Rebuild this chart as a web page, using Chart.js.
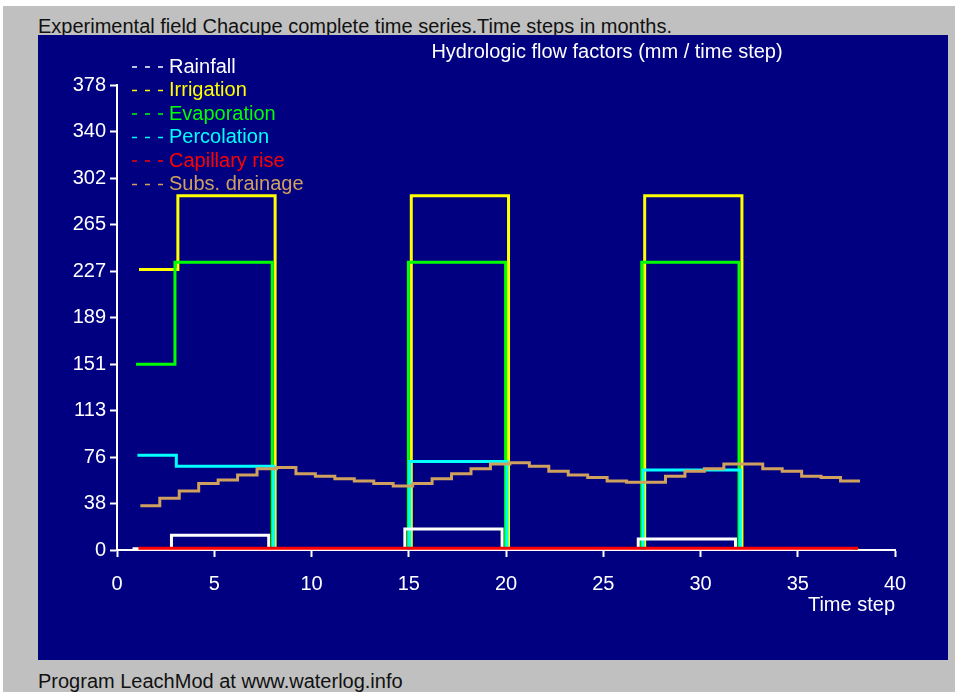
<!DOCTYPE html>
<html>
<head>
<meta charset="utf-8">
<title>LeachMod - hydrologic flow factors</title>
<script src="https://cdn.jsdelivr.net/npm/chart.js@4.4.1/dist/chart.umd.min.js"></script>
<style>
    html, body { margin: 0; padding: 0; background: #ffffff; }
    body { width: 955px; height: 692px; position: relative; overflow: hidden;
           font-family: "Liberation Sans", Arial, sans-serif; }
    #frame { position: absolute; left: 3px; top: 6px; width: 952px; height: 686px; background: #c0c0c0; }
    #caption { position: absolute; left: 35px; top: 9px; font-size: 20px; line-height: 23px; color: #111; white-space: nowrap; }
    #panel { position: absolute; left: 35px; top: 29px; width: 910px; height: 625px; background: #000080; }
    #footer { position: absolute; left: 35px; top: 664px; font-size: 20px; line-height: 23px; color: #111; white-space: nowrap; }
    canvas { display: block; }
</style>
</head>
<body>
<div id="frame">
    <div id="caption">Experimental field Chacupe complete time series.Time steps in months.</div>
    <div id="panel"><canvas id="flowChart" width="910" height="625"></canvas></div>
    <div id="footer">Program LeachMod at www.waterlog.info</div>
</div>
<script>
// monthly time steps, each value holds for one step
const timeSteps = [1, 2, 3, 4, 5, 6, 7, 8, 9, 10, 11, 12, 13, 14, 15, 16, 17, 18, 19, 20,
                   21, 22, 23, 24, 25, 26, 27, 28, 29, 30, 31, 32, 33, 34, 35, 36, 37];

const rainfall    = [1, 1, 12, 12, 12, 12, 12, 0, 0, 0, 0, 0, 0, 0, 17, 17, 17, 17, 17, 0,
                     0, 0, 0, 0, 0, 0, 9, 9, 9, 9, 9, 0, 0, 0, 0, 0, 0];
const irrigation  = [228, 228, 288, 288, 288, 288, 288, 0, 0, 0, 0, 0, 0, 0, 288, 288, 288, 288, 288, 0,
                     0, 0, 0, 0, 0, 0, 288, 288, 288, 288, 288, 0, 0, 0, 0, 0, 0];
const evaporation = [151, 151, 234, 234, 234, 234, 234, 0, 0, 0, 0, 0, 0, 0, 234, 234, 234, 234, 234, 0,
                     0, 0, 0, 0, 0, 0, 234, 234, 234, 234, 234, 0, 0, 0, 0, 0, 0];
const percolation = [77, 77, 68, 68, 68, 68, 68, 0, 0, 0, 0, 0, 0, 0, 72, 72, 72, 72, 72, 0,
                     0, 0, 0, 0, 0, 0, 65, 65, 65, 65, 65, 0, 0, 0, 0, 0, 0];
const capillary   = [1.5, 1.5, 1.5, 1.5, 1.5, 1.5, 1.5, 1.5, 1.5, 1.5, 1.5, 1.5, 1.5, 1.5, 1.5, 1.5, 1.5, 1.5, 1.5, 1.5,
                     1.5, 1.5, 1.5, 1.5, 1.5, 1.5, 1.5, 1.5, 1.5, 1.5, 1.5, 1.5, 1.5, 1.5, 1.5, 1.5, 1.5];
const drainage    = [36, 42, 48, 54, 57, 61, 66, 67, 62, 60, 58, 56, 54, 52, 54, 58, 62, 66, 70, 71,
                     68, 64, 61, 59, 56, 55, 55, 60, 64, 66, 70, 70, 66, 64, 60, 59, 56];

const seriesNames = ['Rainfall', 'Irrigation', 'Evaporation', 'Percolation', 'Capillary rise', 'Subs. drainage'];
const yTickLabels = [0, 38, 76, 113, 151, 189, 227, 265, 302, 340, 378];
const yMax = 378;

const FONT = '"Liberation Sans", Arial, sans-serif';
Chart.defaults.font.family = FONT;
Chart.defaults.font.size = 20;
Chart.defaults.color = '#ffffff';

// every step is drawn from its month to the next one; the series are nudged
// sideways a little so coinciding verticals stay visible
function stepPoints(values, shift) {
    const pts = values.map((v, i) => ({ x: timeSteps[i] + shift, y: v }));
    const last = timeSteps.length - 1;
    pts.push({ x: timeSteps[last] + 1 + shift, y: values[last] });
    return pts;
}

function makeSeries(label, values, color, shift, order) {
    return {
        label: label,
        data: stepPoints(values, shift),
        borderColor: color,
        backgroundColor: color,
        borderWidth: 3,
        stepped: true,
        pointRadius: 0,
        fill: false,
        order: order
    };
}

// title and legend sit on the navy panel above the plot
const panelText = {
    id: 'panelText',
    afterDraw(chart) {
        const ctx = chart.ctx;
        ctx.save();
        ctx.font = '20px ' + FONT;
        ctx.textBaseline = 'middle';
        ctx.fillStyle = '#ffffff';
        ctx.textAlign = 'center';
        ctx.fillText('Hydrologic flow factors (mm / time step)', 569, 17);

        ctx.textAlign = 'left';
        chart.data.datasets.forEach((ds, i) => {
            const y = 32 + i * 23.5;
            ctx.strokeStyle = ds.borderColor;
            ctx.lineWidth = 1.5;
            ctx.setLineDash([5, 8]);
            ctx.beginPath();
            ctx.moveTo(94, y);
            ctx.lineTo(125, y);
            ctx.stroke();
            ctx.fillStyle = ds.borderColor;
            ctx.fillText(ds.label, 131, y);
        });
        ctx.restore();
    }
};

const ctx = document.getElementById('flowChart').getContext('2d');
new Chart(ctx, {
    type: 'line',
    data: {
        datasets: [
            makeSeries(seriesNames[0], rainfall, '#ffffff', -0.2, 2),
            makeSeries(seriesNames[1], irrigation, '#ffff00', 0.13, 6),
            makeSeries(seriesNames[2], evaporation, '#00ff00', -0.02, 5),
            makeSeries(seriesNames[3], percolation, '#00ffff', 0.05, 4),
            makeSeries(seriesNames[4], capillary, '#ff0000', 0.1, 1),
            makeSeries(seriesNames[5], drainage, '#cfa05e', 0.2, 3)
        ]
    },
    options: {
        responsive: false,
        animation: false,
        devicePixelRatio: 1,
        layout: { padding: { left: 0, top: 50, right: 53, bottom: 0 } },
        plugins: {
            legend: { display: false },
            tooltip: { enabled: false }
        },
        scales: {
            x: {
                type: 'linear',
                min: 0,
                max: 40,
                z: 1,
                border: { color: '#ffffff', width: 2 },
                grid: { drawOnChartArea: false, drawTicks: true, tickLength: 7, tickColor: '#ffffff', tickWidth: 2 },
                ticks: { stepSize: 5, color: '#ffffff', padding: 15, maxRotation: 0 },
                title: {
                    display: true,
                    text: 'Time step',
                    align: 'end',
                    color: '#ffffff',
                    padding: { top: 0, bottom: 43 }
                },
                afterFit(scale) { scale.height = 110; }
            },
            y: {
                type: 'linear',
                min: 0,
                max: yMax,
                z: 1,
                border: { color: '#ffffff', width: 2 },
                grid: { drawOnChartArea: false, drawTicks: true, tickLength: 7, tickColor: '#ffffff', tickWidth: 2 },
                ticks: {
                    color: '#ffffff',
                    padding: 4,
                    callback: (value, index) => yTickLabels[index]
                },
                afterBuildTicks(scale) {
                    scale.ticks = yTickLabels.map((_, i) => ({ value: i * yMax / (yTickLabels.length - 1) }));
                },
                afterFit(scale) { scale.width = 79; }
            }
        }
    },
    plugins: [panelText]
});
</script>
</body>
</html>
